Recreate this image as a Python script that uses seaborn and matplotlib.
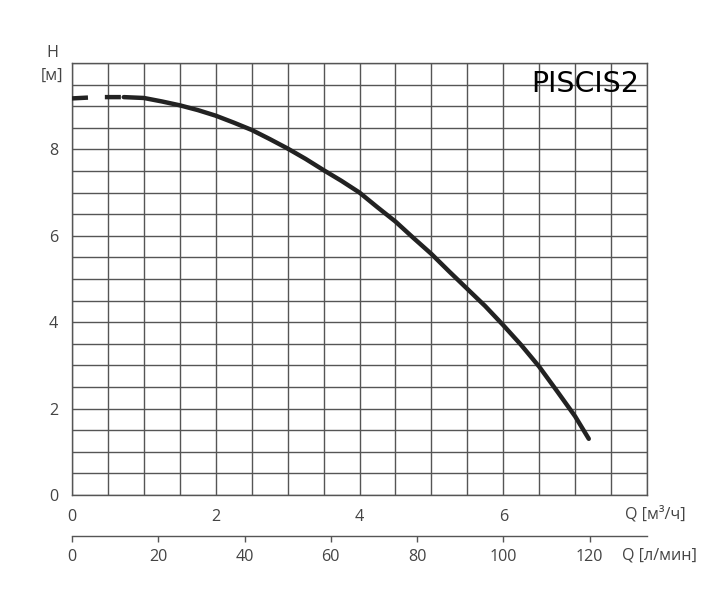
import numpy as np
import pandas as pd
import matplotlib
matplotlib.use("Agg")
import matplotlib.pyplot as plt
import seaborn as sns

# curve: Q [m3/h] vs H [m]
q_dash = [0.0, 0.35, 0.72]
h_dash = [9.18, 9.21, 9.21]
q_solid = [0.72, 1.0, 1.25, 1.5, 1.75, 2.0, 2.25, 2.5, 2.75, 3.0, 3.25, 3.5, 3.75,
           4.0, 4.25, 4.5, 4.75, 5.0, 5.25, 5.5, 5.75, 6.0, 6.25, 6.5, 6.75, 7.0, 7.19]
h_solid = [9.21, 9.19, 9.11, 9.02, 8.91, 8.78, 8.62, 8.45, 8.24, 8.02, 7.78, 7.52, 7.27,
           7.0, 6.66, 6.33, 5.95, 5.58, 5.17, 4.77, 4.37, 3.93, 3.47, 2.97, 2.40, 1.82, 1.30]

x_ticks = [0, 2, 4, 6]
y_ticks = [0, 2, 4, 6, 8, 10]
y_labels = ["0", "2", "4", "6", "8", ""]
lpm_ticks = [0, 20, 40, 60, 80, 100, 120]

sns.set_style("white")
plt.rcParams['font.family'] = ['Open Sans', 'DejaVu Sans']
grey = "#555555"
txt = "#444444"
fs = 11.6

fig = plt.figure(figsize=(7.15, 5.92), dpi=100)
ax = fig.add_axes([0.1007, 0.1639, 0.8042, 0.7297])

dash = pd.DataFrame({"Q": q_dash, "H": h_dash})
solid = pd.DataFrame({"Q": q_solid, "H": h_solid})
sns.lineplot(data=dash, x="Q", y="H", ax=ax, color="#222222", lw=3.2,
             linestyle=(0, (3.6, 3.8)), zorder=5)
sns.lineplot(data=solid, x="Q", y="H", ax=ax, color="#222222", lw=3.2,
             solid_capstyle="round", solid_joinstyle="round", zorder=5)

ax.set_xlim(0, 8)
ax.set_ylim(0, 10)
ax.set_xticks(np.arange(0, 8.01, 0.5), minor=True)
ax.set_yticks(np.arange(0, 10.01, 0.5), minor=True)
ax.grid(which="both", color=grey, lw=1)
ax.set_xticks(x_ticks)
ax.set_yticks(y_ticks)
ax.set_yticklabels(y_labels)
ax.tick_params(which="major", length=5, width=1, color=grey, labelcolor=txt,
               labelsize=fs, direction="out")
ax.tick_params(axis="x", pad=5)
ax.tick_params(axis="y", pad=5)
ax.tick_params(which="minor", length=0)
for s in ax.spines.values():
    s.set_color(grey)
    s.set_linewidth(1)
ax.set_xlabel("")
ax.set_ylabel("")

sec = ax.secondary_xaxis(-0.095, functions=(lambda q: q * 1000 / 60, lambda l: l * 60 / 1000))
sec.set_xticks(lpm_ticks)
sec.tick_params(length=4, width=1, color=grey, labelcolor=txt, labelsize=fs, pad=5)
sec.spines["bottom"].set_color(grey)
sec.spines["bottom"].set_linewidth(1)

ax.text(0.962, -0.045, "Q [м³/ч]", transform=ax.transAxes, ha="left", va="center",
        color=txt, fontsize=fs)
ax.text(0.957, -0.14, "Q [л/мин]", transform=ax.transAxes, ha="left", va="center",
        color=txt, fontsize=fs)
ax.text(-0.035, 1.023, "H", transform=ax.transAxes, ha="center", va="center",
        color=txt, fontsize=fs)
ax.text(-0.035, 0.970, "[м]", transform=ax.transAxes, ha="center", va="center",
        color=txt, fontsize=fs)
ax.text(0.986, 0.9525, "PISCIS2", transform=ax.transAxes, ha="right", va="center",
        color="black", fontsize=20.5, family=["DejaVu Sans"])

fig.savefig("out.png", dpi=100, facecolor="white")
